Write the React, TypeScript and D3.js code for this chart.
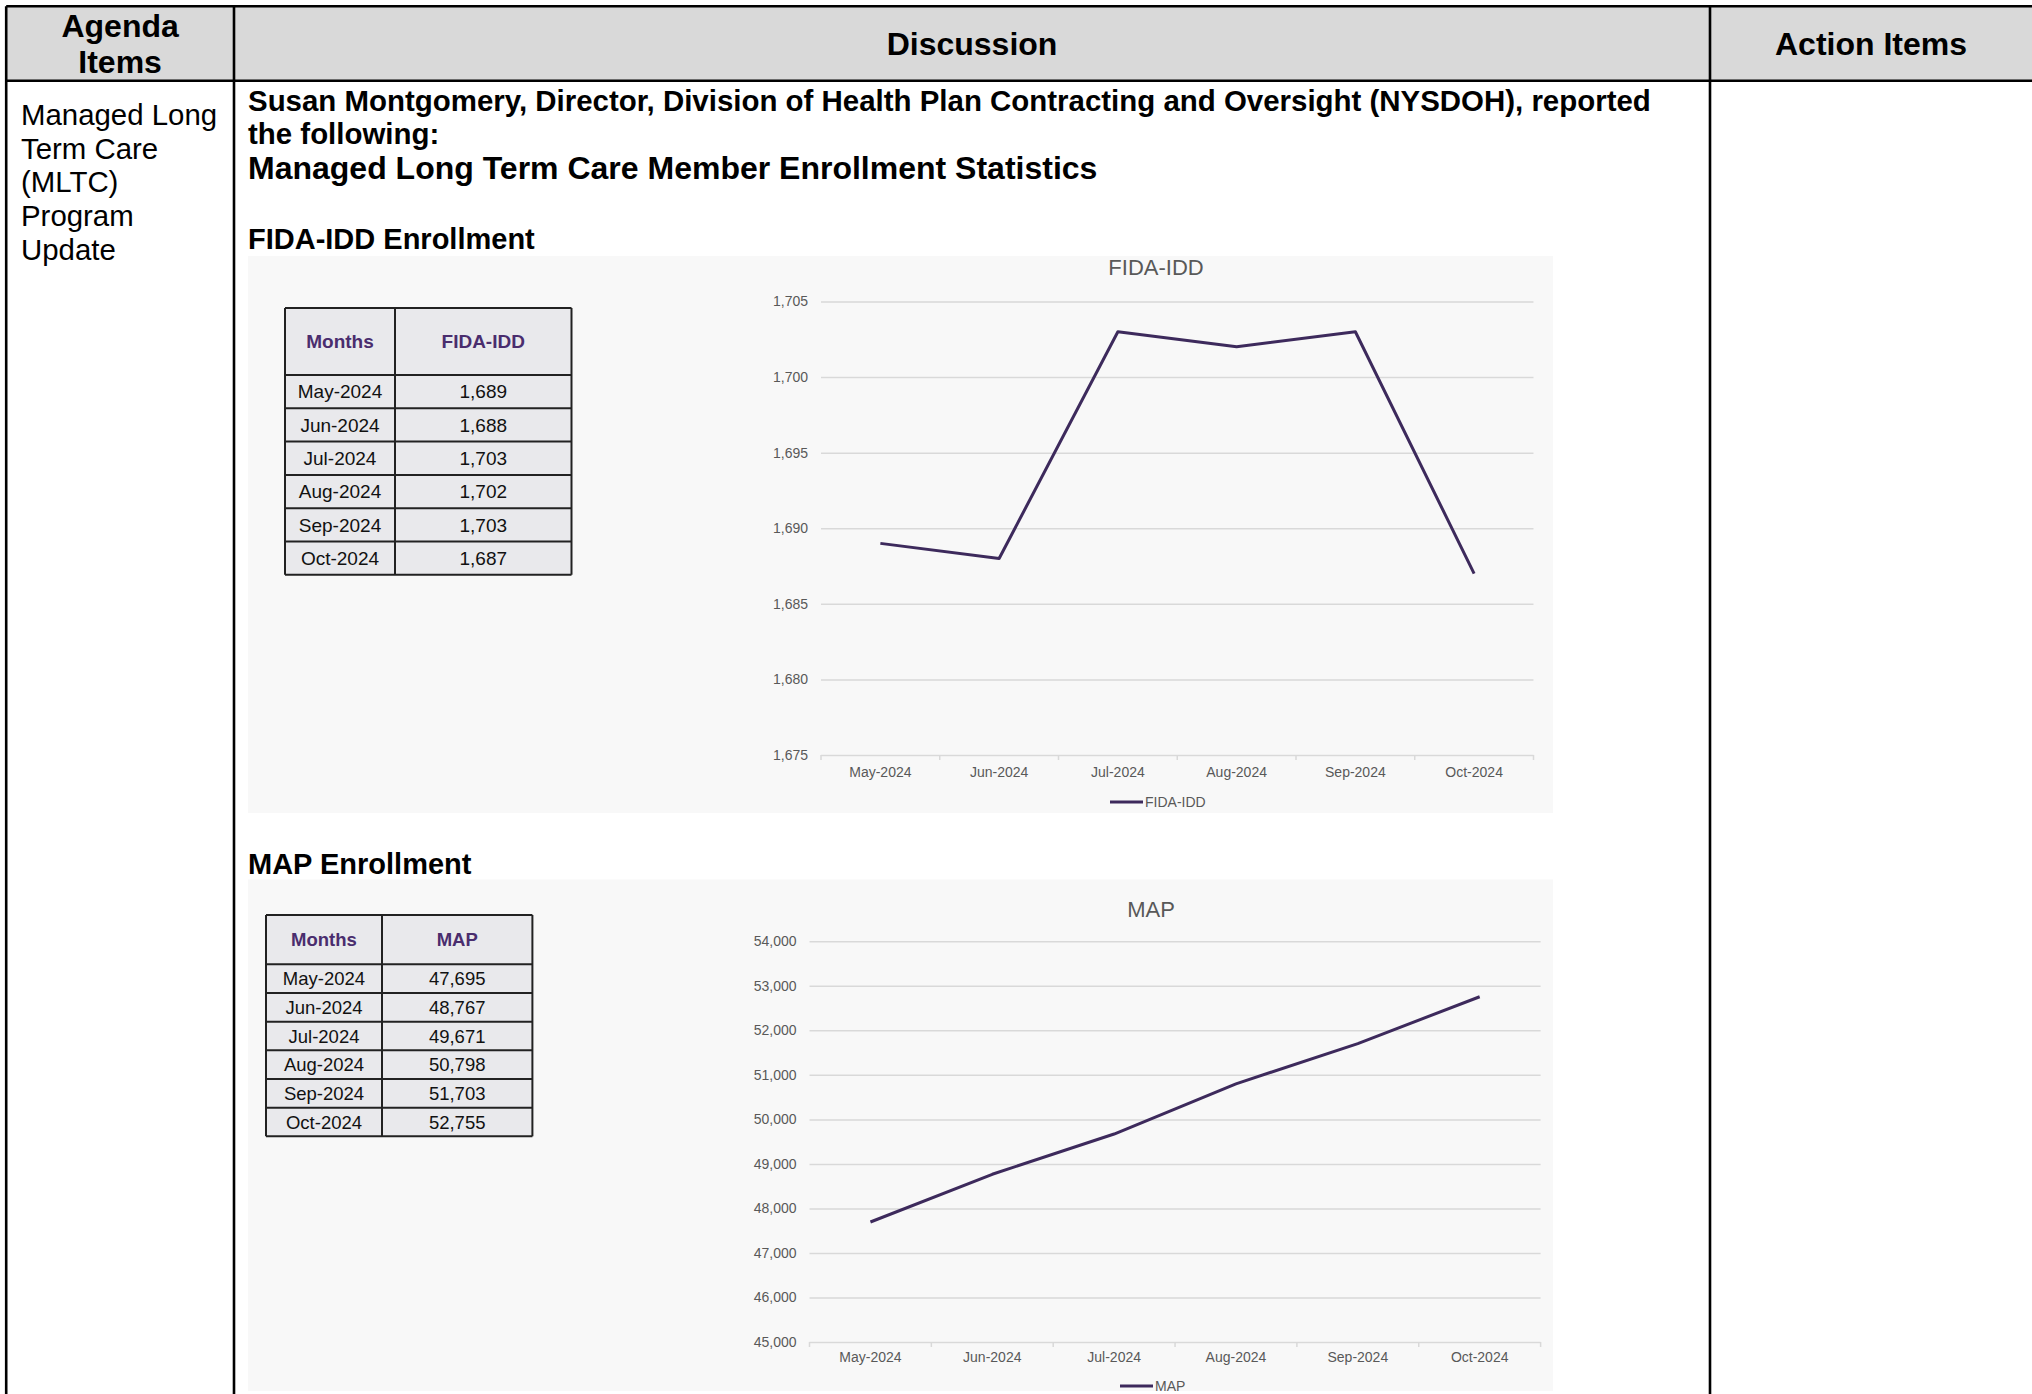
import { useEffect, useRef } from 'react';
import * as d3 from 'd3';

// ---- data ----
const months = ['May-2024', 'Jun-2024', 'Jul-2024', 'Aug-2024', 'Sep-2024', 'Oct-2024'];
const fidaIddValues = [1689, 1688, 1703, 1702, 1703, 1687];
const mapValues = [47695, 48767, 49671, 50798, 51703, 52755];
const fidaIddTicks = [1675, 1680, 1685, 1690, 1695, 1700, 1705];
const mapTicks = [45000, 46000, 47000, 48000, 49000, 50000, 51000, 52000, 53000, 54000];

const agendaHeader = ['Agenda', 'Items'];
const discussionHeader = 'Discussion';
const actionHeader = 'Action Items';
const agendaLines = ['Managed Long', 'Term Care', '(MLTC)', 'Program', 'Update'];
const introLines = [
  'Susan Montgomery, Director, Division of Health Plan Contracting and Oversight (NYSDOH), reported',
  'the following:',
];
const sectionTitle = 'Managed Long Term Care Member Enrollment Statistics';

const FONT = "'Liberation Sans', Arial, Helvetica, sans-serif";
const LINE_COLOR = '#3d2a5c';
const HEAD_PURPLE = '#4a2d6e';
const AXIS_TEXT = '#595959';
const GRID = '#d9d9d9';

interface SectionConfig {
  heading: string;
  headingY: number;
  name: string;
  values: number[];
  ticks: number[];
  panel: { x: number; y: number; w: number; h: number };
  plot: { x0: number; x1: number; y0: number; y1: number };
  table: { x: number; y: number; colX: number; right: number; headH: number; rowH: number; font: number };
  title: { x: number; y: number };
  legend: { x: number; y: number };
  labelGap: number;
}

function drawSection(root: d3.Selection<SVGGElement, unknown, null, undefined>, cfg: SectionConfig) {
  const g = root.append('g');
  const fmt = d3.format(',');

  // section heading
  g.append('text')
    .attr('x', 248)
    .attr('y', cfg.headingY)
    .attr('font-size', 29)
    .attr('font-weight', 'bold')
    .text(cfg.heading);

  // grey chart panel
  g.append('rect')
    .attr('x', cfg.panel.x)
    .attr('y', cfg.panel.y)
    .attr('width', cfg.panel.w)
    .attr('height', cfg.panel.h)
    .attr('fill', '#f8f8f8');

  // small data table
  const t = cfg.table;
  const tableBottom = t.y + t.headH + months.length * t.rowH;
  g.append('rect')
    .attr('x', t.x)
    .attr('y', t.y)
    .attr('width', t.right - t.x)
    .attr('height', tableBottom - t.y)
    .attr('fill', '#e9e9ec');

  const leftMid = (t.x + t.colX) / 2;
  const rightMid = (t.colX + t.right) / 2;
  [['Months', leftMid], [cfg.name, rightMid]].forEach(([label, cx]) => {
    g.append('text')
      .attr('x', cx as number)
      .attr('y', t.y + t.headH / 2)
      .attr('dy', '0.36em')
      .attr('text-anchor', 'middle')
      .attr('font-size', t.font)
      .attr('font-weight', 'bold')
      .attr('fill', HEAD_PURPLE)
      .text(label as string);
  });

  const rows = g.selectAll('.row')
    .data(months)
    .enter().append('g')
    .attr('class', 'row');
  rows.append('text')
    .attr('x', leftMid)
    .attr('y', (_, i) => t.y + t.headH + (i + 0.5) * t.rowH)
    .attr('dy', '0.36em')
    .attr('text-anchor', 'middle')
    .attr('font-size', t.font)
    .attr('fill', '#111')
    .text(d => d);
  rows.append('text')
    .attr('x', rightMid)
    .attr('y', (_, i) => t.y + t.headH + (i + 0.5) * t.rowH)
    .attr('dy', '0.36em')
    .attr('text-anchor', 'middle')
    .attr('font-size', t.font)
    .attr('fill', '#111')
    .text((_, i) => fmt(cfg.values[i]));

  const hLines = [t.y, ...months.map((_, i) => t.y + t.headH + i * t.rowH), tableBottom];
  g.selectAll('.hline')
    .data(hLines)
    .enter().append('line')
    .attr('x1', t.x).attr('x2', t.right)
    .attr('y1', d => d).attr('y2', d => d)
    .attr('stroke', '#222')
    .attr('stroke-width', 2);
  g.selectAll('.vline')
    .data([t.x, t.colX, t.right])
    .enter().append('line')
    .attr('x1', d => d).attr('x2', d => d)
    .attr('y1', t.y).attr('y2', tableBottom)
    .attr('stroke', '#222')
    .attr('stroke-width', 2);

  // line chart
  const p = cfg.plot;
  const xScale = d3.scaleBand().domain(months).range([p.x0, p.x1]);
  const yScale = d3.scaleLinear()
    .domain(d3.extent(cfg.ticks) as [number, number])
    .range([p.y1, p.y0]);

  g.append('text')
    .attr('x', cfg.title.x)
    .attr('y', cfg.title.y)
    .attr('text-anchor', 'middle')
    .attr('font-size', 22)
    .attr('fill', AXIS_TEXT)
    .text(cfg.name);

  const yAxis = g.append('g')
    .attr('transform', `translate(${p.x0},0)`)
    .call(d3.axisLeft(yScale)
      .tickValues(cfg.ticks)
      .tickSize(-(p.x1 - p.x0))
      .tickPadding(13)
      .tickFormat(d => fmt(d as number)));
  yAxis.select('.domain').remove();
  yAxis.selectAll('line').attr('stroke', GRID).attr('stroke-width', 1.5);
  yAxis.selectAll('text')
    .attr('font-size', 14)
    .attr('font-family', FONT)
    .attr('fill', AXIS_TEXT);

  // category boundary ticks under the axis
  g.selectAll('.xtick')
    .data(d3.range(months.length + 1))
    .enter().append('line')
    .attr('x1', i => p.x0 + i * xScale.step())
    .attr('x2', i => p.x0 + i * xScale.step())
    .attr('y1', p.y1)
    .attr('y2', p.y1 + 5)
    .attr('stroke', GRID)
    .attr('stroke-width', 1.5);

  const xAxis = g.append('g')
    .attr('transform', `translate(0,${p.y1})`)
    .call(d3.axisBottom(xScale).tickSize(0).tickPadding(cfg.labelGap));
  xAxis.select('.domain').remove();
  xAxis.selectAll('text')
    .attr('font-size', 14)
    .attr('font-family', FONT)
    .attr('fill', AXIS_TEXT);

  const line = d3.line<number>()
    .x((_, i) => (xScale(months[i]) || 0) + xScale.bandwidth() / 2)
    .y(d => yScale(d));

  g.append('path')
    .datum(cfg.values)
    .attr('d', line)
    .attr('fill', 'none')
    .attr('stroke', LINE_COLOR)
    .attr('stroke-width', 3)
    .attr('stroke-linejoin', 'round');

  // legend
  g.append('line')
    .attr('x1', cfg.legend.x).attr('x2', cfg.legend.x + 33)
    .attr('y1', cfg.legend.y).attr('y2', cfg.legend.y)
    .attr('stroke', LINE_COLOR)
    .attr('stroke-width', 3);
  g.append('text')
    .attr('x', cfg.legend.x + 35)
    .attr('y', cfg.legend.y)
    .attr('dy', '0.36em')
    .attr('font-size', 14)
    .attr('fill', AXIS_TEXT)
    .text(cfg.name);
}

export default function App() {
  const svgRef = useRef<SVGSVGElement>(null);

  useEffect(() => {
    if (!svgRef.current) return;
    const svg = d3.select(svgRef.current);
    svg.selectAll('*').remove();

    const root = svg.append('g').attr('font-family', FONT);

    const left = 6.2;
    const top = 6.2;
    const headBottom = 80.7;
    const col1 = 234;
    const col2 = 1710;
    const right = 2034;
    const bottom = 1400;

    // header band
    root.append('rect')
      .attr('x', left).attr('y', top)
      .attr('width', right - left).attr('height', headBottom - top)
      .attr('fill', '#d9d9d9');

    agendaHeader.forEach((txt, i) => {
      root.append('text')
        .attr('x', (left + col1) / 2)
        .attr('y', 37 + i * 36)
        .attr('text-anchor', 'middle')
        .attr('font-size', 32)
        .attr('font-weight', 'bold')
        .text(txt);
    });
    root.append('text')
      .attr('x', (col1 + col2) / 2)
      .attr('y', 55)
      .attr('text-anchor', 'middle')
      .attr('font-size', 32)
      .attr('font-weight', 'bold')
      .text(discussionHeader);
    root.append('text')
      .attr('x', (col2 + 2032) / 2)
      .attr('y', 55)
      .attr('text-anchor', 'middle')
      .attr('font-size', 32)
      .attr('font-weight', 'bold')
      .text(actionHeader);

    // left column
    agendaLines.forEach((txt, i) => {
      root.append('text')
        .attr('x', 21)
        .attr('y', 125 + i * 33.7)
        .attr('font-size', 29.4)
        .text(txt);
    });

    // discussion intro
    introLines.forEach((txt, i) => {
      root.append('text')
        .attr('x', 248)
        .attr('y', 110.8 + i * 33)
        .attr('font-size', 29.45)
        .attr('font-weight', 'bold')
        .text(txt);
    });
    root.append('text')
      .attr('x', 248)
      .attr('y', 178.5)
      .attr('font-size', 32)
      .attr('font-weight', 'bold')
      .text(sectionTitle);

    drawSection(root, {
      heading: 'FIDA-IDD Enrollment',
      headingY: 249,
      name: 'FIDA-IDD',
      values: fidaIddValues,
      ticks: fidaIddTicks,
      panel: { x: 248, y: 256, w: 1305, h: 557 },
      plot: { x0: 821, x1: 1533.5, y0: 301.5, y1: 755 },
      table: { x: 285, y: 308, colX: 395, right: 571.5, headH: 67, rowH: 33.3, font: 19 },
      title: { x: 1156, y: 275 },
      legend: { x: 1110, y: 802 },
      labelGap: 12.4,
    });

    drawSection(root, {
      heading: 'MAP Enrollment',
      headingY: 874,
      name: 'MAP',
      values: mapValues,
      ticks: mapTicks,
      panel: { x: 248, y: 879.5, w: 1305, h: 511.5 },
      plot: { x0: 809.5, x1: 1540.6, y0: 941.3, y1: 1342 },
      table: { x: 266, y: 915, colX: 382, right: 532.4, headH: 49.3, rowH: 28.67, font: 18.5 },
      title: { x: 1151, y: 917 },
      legend: { x: 1120, y: 1386 },
      labelGap: 10.3,
    });

    // outer grid of the agenda table
    const borders = [
      [left, top, right, top],
      [left, headBottom, right, headBottom],
      [left, top, left, bottom],
      [col1, top, col1, bottom],
      [col2, top, col2, bottom],
    ];
    root.selectAll('.border')
      .data(borders)
      .enter().append('line')
      .attr('x1', d => d[0]).attr('y1', d => d[1])
      .attr('x2', d => d[2]).attr('y2', d => d[3])
      .attr('stroke', '#000')
      .attr('stroke-width', 2.6);
  }, []);

  return (
    <svg
      ref={svgRef}
      width={2032}
      height={1394}
      style={{ position: 'absolute', left: 0, top: 0, background: '#fff', display: 'block' }}
    />
  );
}
